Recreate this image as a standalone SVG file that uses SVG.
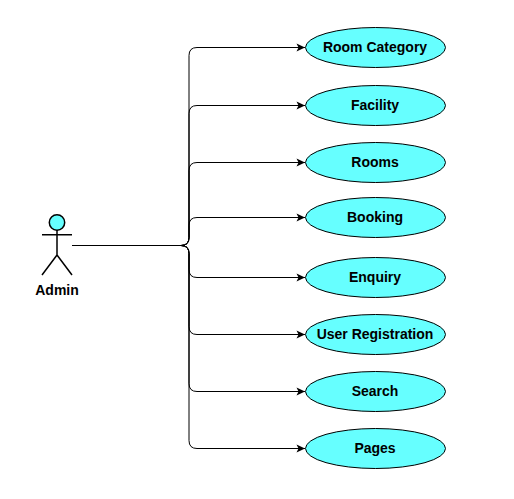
<svg xmlns="http://www.w3.org/2000/svg" width="514" height="499" viewBox="0 0 514 499">
<defs><marker id="a" markerUnits="userSpaceOnUse" markerWidth="12" markerHeight="12" refX="9" refY="5" orient="auto"><path d="M0.5 1L9 5L0.5 9L2.500 5Z" fill="#000"/></marker></defs>
<style>
.e{fill:#66ffff;stroke:#000;stroke-width:1}
.t{font:bold 14px "Liberation Sans",Arial,sans-serif;text-anchor:middle;fill:#000}
.c{fill:none;stroke:#000;stroke-width:1;marker-end:url(#a)}
.s{fill:none;stroke:#000;stroke-width:1.5}
</style>
<rect width="514" height="499" fill="#fff"/>
<g id="connectors">
<path class="c" d="M72 245.500H181Q189 245.500 189 237.500V55.500Q189 47.500 197 47.500H305"/>
<path class="c" d="M181 245.500Q189 245.500 189 237.500V113.500Q189 105.500 197 105.500H305"/>
<path class="c" d="M181 245.500Q189 245.500 189 237.500V170.500Q189 162.500 197 162.500H305"/>
<path class="c" d="M181 245.500Q189 245.500 189 237.500V225.500Q189 217.500 197 217.500H305"/>
<path class="c" d="M181 245.500Q189 245.500 189 253.500V269.500Q189 277.500 197 277.500H305"/>
<path class="c" d="M181 245.500Q189 245.500 189 253.500V326.500Q189 334.500 197 334.500H305"/>
<path class="c" d="M181 245.500Q189 245.500 189 253.500V383.500Q189 391.500 197 391.500H305"/>
<path class="c" d="M181 245.500Q189 245.500 189 253.500V440.500Q189 448.500 197 448.500H305"/>
</g>
<g id="admin">
<circle cx="57" cy="222.500" r="7.700" fill="#66ffff" stroke="#000" stroke-width="1.500"/>
<path class="s" d="M57 230V255M42 234.800H72M57 255L42 275M57 255L72 275"/>
<text x="57" y="295" class="t">Admin</text>
</g>
<g id="n1"><ellipse class="e" cx="375.500" cy="47.500" rx="70" ry="20"/><text class="t" x="375" y="52">Room Category</text></g>
<g id="n2"><ellipse class="e" cx="375.500" cy="105.500" rx="70" ry="20"/><text class="t" x="375" y="110">Facility</text></g>
<g id="n3"><ellipse class="e" cx="375.500" cy="162.500" rx="70" ry="20"/><text class="t" x="375" y="167">Rooms</text></g>
<g id="n4"><ellipse class="e" cx="375.500" cy="217.500" rx="70" ry="20"/><text class="t" x="375" y="222">Booking</text></g>
<g id="n5"><ellipse class="e" cx="375.500" cy="277.500" rx="70" ry="20"/><text class="t" x="375" y="282">Enquiry</text></g>
<g id="n6"><ellipse class="e" cx="375.500" cy="334.500" rx="70" ry="20"/><text class="t" x="375" y="339">User Registration</text></g>
<g id="n7"><ellipse class="e" cx="375.500" cy="391.500" rx="70" ry="20"/><text class="t" x="375" y="396">Search</text></g>
<g id="n8"><ellipse class="e" cx="375.500" cy="448.500" rx="70" ry="20"/><text class="t" x="375" y="453">Pages</text></g>
</svg>
